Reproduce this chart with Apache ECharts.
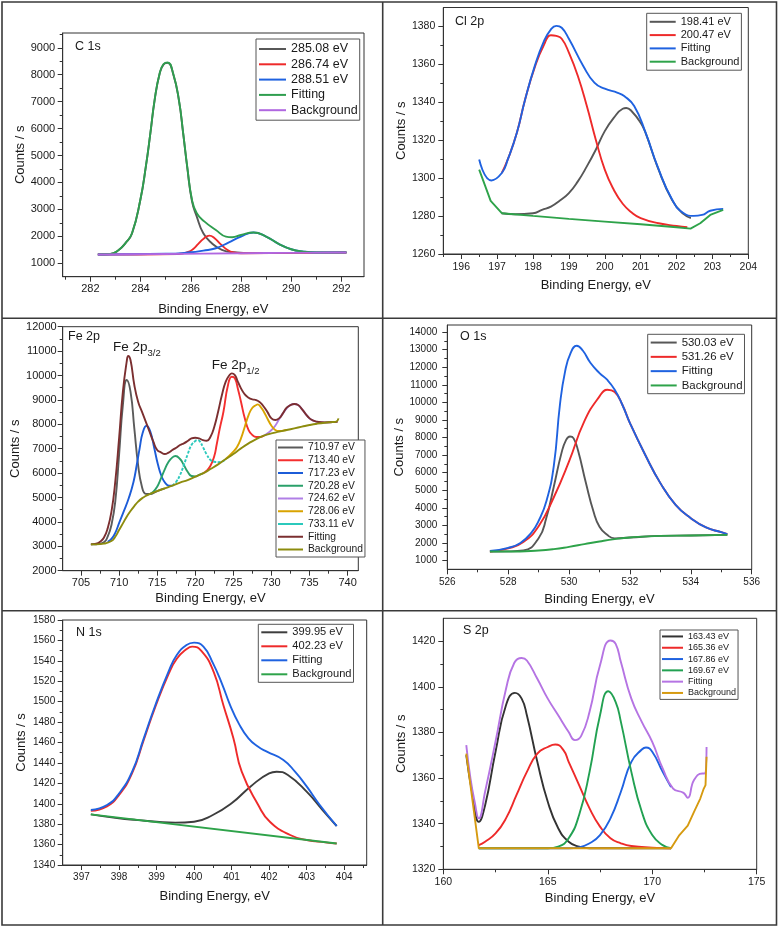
<!DOCTYPE html>
<html><head><meta charset="utf-8">
<script src="https://cdn.jsdelivr.net/npm/echarts@6/dist/echarts.min.js"></script>
<style>html,body{margin:0;padding:0;background:#fff}#c{width:780px;height:927px}</style>
</head><body><div id="c"></div>
<script>
// ---------------- C 1s ----------------
const C1S_XTICKS = [282, 284, 286, 288, 290, 292];
const C1S_XMINOR = [281, 283, 285, 287, 289, 291];
const C1S_YTICKS = [1000, 2000, 3000, 4000, 5000, 6000, 7000, 8000, 9000];
const C1S_YMINOR = [1500, 2500, 3500, 4500, 5500, 6500, 7500, 8500, 9500];
const C1S_P1 = [[282.3,1330],[282.8,1345],[283.13,1490],[283.4,1745],[283.66,2105],[283.99,3340],[284.21,4575],[284.39,5810],[284.56,7045],[284.76,8035],[284.92,8385],[285.08,8440],[285.3,8030],[285.53,7040],[285.7,5800],[285.86,4560],[286.05,3300],[286.24,2731],[286.5,2113],[286.84,1742],[287.24,1495],[287.7,1408],[288.5,1375],[290,1385],[292.2,1400]];
const C1S_P2 = [[282.3,1325],[285.5,1345],[285.9,1420],[286.1,1530],[286.3,1720],[286.5,1900],[286.74,2026],[286.95,1930],[287.2,1700],[287.45,1500],[287.7,1400],[288.0,1372],[290,1385],[292.2,1400]];
const C1S_P3 = [[282.3,1325],[285.0,1350],[286.0,1408],[286.5,1470],[287.0,1556],[287.5,1767],[288.0,1990],[288.5,2140],[289.0,1990],[289.5,1720],[290.0,1520],[290.5,1433],[291.0,1400],[292.2,1405]];
const C1S_FIT = [[282.3,1330],[282.8,1345],[283.13,1495],[283.4,1750],[283.66,2113],[283.99,3350],[284.21,4586],[284.39,5822],[284.56,7059],[284.76,8048],[284.92,8400],[285.08,8456],[285.3,8048],[285.53,7059],[285.7,5822],[285.86,4586],[286.05,3350],[286.24,2855],[286.55,2546],[287.0,2236],[287.4,1990],[287.65,1965],[288.0,2050],[288.5,2140],[289.0,1990],[289.5,1720],[290.0,1520],[290.5,1433],[291.0,1400],[291.5,1395],[292.2,1405]];
const C1S_BG = [[282.3,1325],[285,1345],[288,1370],[290,1385],[292.2,1400]];

// ---------------- Cl 2p ----------------
const CL_XTICKS = [196, 197, 198, 199, 200, 201, 202, 203, 204];
const CL_XMINOR = [195.5, 196.5, 197.5, 198.5, 199.5, 200.5, 201.5, 202.5, 203.5];
const CL_YTICKS = [1260, 1280, 1300, 1320, 1340, 1360, 1380];
const CL_YMINOR = [1270, 1290, 1310, 1330, 1350, 1370];
const CL_P1 = [[197.13,1281.5],[197.5,1281],[198.0,1281.5],[198.25,1283.3],[198.5,1285],[198.75,1288.2],[199.0,1292.1],[199.25,1298.3],[199.5,1306.2],[199.75,1315],[200.0,1324.8],[200.25,1331.8],[200.5,1336.6],[200.6,1337],[200.75,1335.3],[201.0,1329.2],[201.14,1323.7],[201.47,1306],[201.88,1288.3],[202.2,1281],[202.4,1279]];
const CL_P2 = [[197.13,1302.7],[197.3,1310],[197.55,1323.9],[197.78,1341.5],[198.05,1358.5],[198.3,1370],[198.5,1375.4],[198.65,1375],[198.8,1373.5],[199.0,1366.2],[199.25,1353.9],[199.5,1338],[199.75,1320.3],[200.0,1304.5],[200.25,1293.9],[200.5,1286.5],[200.75,1281.9],[201.0,1278.9],[201.5,1276.2],[202.0,1274.8],[202.3,1274.1]];
const CL_FIT = [[196.5,1309.8],[196.84,1298.8],[197.13,1302.7],[197.3,1310],[197.55,1323.9],[197.78,1341.5],[198.05,1359.2],[198.3,1372],[198.5,1378.5],[198.65,1380.3],[198.8,1379.3],[199.0,1373.5],[199.4,1359.2],[199.71,1350.4],[200.0,1347.2],[200.36,1345],[200.54,1343.3],[200.82,1338],[201.14,1323.9],[201.47,1306.2],[201.88,1288.6],[202.2,1281.5],[202.48,1280.1],[202.71,1280.6],[202.94,1282.8],[203.3,1283.8]];
const CL_BG = [[196.5,1304.5],[196.82,1288],[197.13,1281.5],[198,1280.1],[199,1278.5],[200,1277.1],[201,1275.7],[202,1274.1],[202.39,1273.4],[202.66,1276.2],[202.94,1280.6],[203.3,1283.3]];

// ---------------- Fe 2p ----------------
const FE_XTICKS = [705, 710, 715, 720, 725, 730, 735, 740];
const FE_XMINOR = [707.5, 712.5, 717.5, 722.5, 727.5, 732.5, 737.5];
const FE_YTICKS = [2000, 3000, 4000, 5000, 6000, 7000, 8000, 9000, 10000, 11000, 12000];
const FE_YMINOR = [2500, 3500, 4500, 5500, 6500, 7500, 8500, 9500, 10500, 11500];
const FE_P1 = [[706.3,3079],[707,3085],[708,3161],[708.5,3393],[709,3872],[709.5,4828],[710,6740],[710.5,8790],[711,9814],[711.5,9336],[712,7833],[712.5,6330],[713,5443],[713.5,5150],[714,5142],[715,5265],[716,5374]];
const FE_P2 = [[721,5989],[721.5,6100],[722,6300],[722.5,6700],[722.8,7150],[723.2,7800],[723.7,8516],[724.3,9610],[724.8,9951],[725.2,9880],[725.6,9450],[726,8927],[726.5,8243],[727,7765],[727.5,7560],[728,7480],[728.5,7480],[729,7533]];
const FE_P3 = [[708.5,3180],[709,3300],[709.5,3550],[710,3950],[710.6,4418],[711.3,5000],[711.9,5648],[712.3,6300],[712.7,7014],[713.1,7650],[713.6,7943],[714.1,7700],[714.6,7050],[715.1,6350],[715.6,5850],[716.1,5580],[716.6,5480],[717,5484]];
const FE_P4 = [[714,5142],[714.5,5238],[715,5443],[715.5,5784],[716,6153],[716.5,6467],[717,6645],[717.4,6699],[718,6577],[718.5,6331],[719,6057],[719.5,5880],[720,5860],[720.5,5925],[721,5989]];
const FE_P5 = [[729,7533],[729.5,7628],[730,7765],[730.5,7943],[731,8202],[731.5,8448],[732,8653],[732.5,8790],[733,8831],[733.5,8790],[734,8626],[734.5,8421],[735,8243],[735.5,8148],[736,8100],[737,8075],[738,8093]];
const FE_P6 = [[724,6577],[725,6877],[725.5,7082],[726,7423],[726.5,7902],[727,8380],[727.5,8680],[728,8790],[728.2,8817],[728.5,8749],[729,8516],[729.5,8216],[730,7943],[730.5,7765],[731,7724],[731.5,7740],[732,7765]];
const FE_P7 = [[717,5484],[717.5,5648],[718,5921],[718.5,6331],[719,6768],[719.5,7150],[720,7314],[720.3,7355],[720.6,7300],[721,7068],[721.5,6768],[722,6535],[722.5,6467],[723,6450],[723.5,6470],[724,6577]];
const FE_FIT = [[706.3,3079],[707,3107],[707.5,3189],[708,3352],[708.5,3735],[709,4418],[709.5,5648],[710,7423],[710.5,9336],[711,10566],[711.2,10798],[711.5,10634],[712,9610],[712.5,8926],[713,8516],[713.5,8107],[714,7697],[714.5,7287],[715,6945],[715.5,6850],[716,6781],[716.5,6840],[717,6945],[717.5,7041],[718,7150],[718.5,7220],[719,7314],[719.5,7423],[720,7451],[720.5,7420],[721,7355],[721.5,7328],[722,7492],[722.5,7902],[723,8516],[723.5,9199],[724,9746],[724.5,10019],[724.8,10087],[725.2,10019],[725.5,9814],[726,9473],[726.5,9227],[727,9090],[727.5,9022],[728,8995],[728.5,8899],[729,8721],[729.5,8489],[730,8243],[730.5,8175],[731,8243],[731.5,8448],[732,8680],[732.5,8790],[733,8831],[733.5,8790],[734,8626],[734.5,8421],[735,8243],[735.5,8148],[736,8107],[737,8079],[738,8090],[738.7,8100]];
const FE_BG = [[706.3,3079],[707,3079],[708,3107],[709,3216],[709.5,3393],[710,3667],[710.5,3940],[711,4213],[711.5,4445],[712,4650],[712.5,4828],[713,4964],[713.5,5060],[714,5142],[715,5265],[716,5374],[717,5484],[718,5607],[719,5716],[720,5852],[721,5989],[722,6167],[723,6358],[724,6577],[725,6781],[726,7014],[727,7219],[728,7396],[729,7533],[730,7628],[731,7697],[732,7765],[733,7833],[734,7902],[735,7970],[736,8025],[737,8066],[738,8093],[738.5,8107],[738.8,8243]];

// ---------------- O 1s ----------------
const O_XTICKS = [526, 528, 530, 532, 534, 536];
const O_XMINOR = [527, 529, 531, 533, 535];
const O_YTICKS = [1000, 2000, 3000, 4000, 5000, 6000, 7000, 8000, 9000, 10000, 11000, 12000, 13000, 14000];
const O_YMINOR = [1500, 2500, 3500, 4500, 5500, 6500, 7500, 8500, 9500, 10500, 11500, 12500, 13500];
const O_P1 = [[527.4,1512],[528,1520],[528.5,1570],[529,2270],[529.25,3400],[529.5,5215],[529.75,7110],[529.9,7850],[530.03,8060],[530.15,7950],[530.3,7225],[530.55,5435],[530.8,3800],[531,2920],[531.25,2460],[531.5,2260],[532,2310],[533,2404],[534,2423],[535.2,2461]];
const O_P2 = [[527.4,1512],[528,1690],[528.5,2050],[529,2950],[529.5,4600],[530,6637],[530.5,8914],[531,10338],[531.26,10717],[531.5,10584],[531.75,9863],[532,8819],[532.5,7016],[533,5403],[533.5,4169],[534,3410],[534.5,2879],[535,2613],[535.2,2499]];
const O_FIT = [[527.4,1550],[528,1720],[528.4,2000],[528.77,2600],[529.0,3250],[529.26,4400],[529.5,6400],[529.7,9863],[529.87,11761],[530.05,12800],[530.25,13222],[530.45,12950],[530.7,12250],[531,11666],[531.25,11286],[531.5,10717],[531.75,9863],[532,8819],[532.5,7016],[533,5403],[533.5,4169],[534,3410],[534.5,2879],[535,2613],[535.2,2499]];
const O_BG = [[527.4,1512],[528,1512],[529,1569],[529.5,1645],[530,1778],[530.5,1930],[531,2082],[531.5,2215],[532,2310],[533,2404],[534,2423],[535.2,2461]];

// ---------------- N 1s ----------------
const N_XTICKS = [397, 398, 399, 400, 401, 402, 403, 404];
const N_XMINOR = [397.5, 398.5, 399.5, 400.5, 401.5, 402.5, 403.5, 404.5];
const N_YTICKS = [1340, 1360, 1380, 1400, 1420, 1440, 1460, 1480, 1500, 1520, 1540, 1560, 1580];
const N_YMINOR = [1350, 1370, 1390, 1410, 1430, 1450, 1470, 1490, 1510, 1530, 1550, 1570];
const N_P1 = [[397.25,1389.6],[398,1385.7],[398.5,1384],[399,1382.4],[399.5,1381.5],[400,1382.4],[400.5,1389],[401,1400.4],[401.5,1416.7],[402,1429.8],[402.2,1431.4],[402.5,1428.2],[403,1411.8],[403.5,1390.6],[403.8,1378.2]];
const N_P2 = [[397.25,1393],[397.68,1397.5],[398.0,1408.5],[398.35,1430],[398.66,1462.5],[398.97,1495],[399.32,1527],[399.54,1542],[399.8,1551.5],[399.95,1553.9],[400.2,1549.5],[400.52,1529.4],[400.78,1496.7],[401.05,1464],[401.27,1431.4],[401.71,1398.8],[402.02,1382.4],[402.56,1369.4],[403,1364.5],[403.5,1362.2],[403.8,1361]];
const N_FIT = [[397.25,1393.9],[397.68,1398.8],[398.0,1410],[398.35,1431.4],[398.66,1464],[398.97,1496.7],[399.32,1529.4],[399.54,1545.7],[399.8,1555.5],[400,1557.8],[400.25,1554],[400.5,1538],[400.75,1517],[400.96,1496.7],[401.2,1478],[401.45,1464],[401.7,1456],[401.94,1451],[402.38,1442.9],[402.69,1431.4],[403.0,1417],[403.35,1398.8],[403.8,1378.2]];
const N_BG = [[397.25,1389.6],[403.8,1361]];

// ---------------- S 2p ----------------
const S_XTICKS = [160, 165, 170, 175];
const S_XMINOR = [162.5, 167.5, 172.5];
const S_YTICKS = [1320, 1340, 1360, 1380, 1400, 1420];
const S_YMINOR = [1330, 1350, 1370, 1390, 1410];
const S_P1 = [[161.1,1370],[161.4,1352.5],[161.7,1340.8],[162,1348],[162.5,1371.5],[163,1391.9],[163.43,1397.3],[163.75,1394.8],[164,1387.5],[164.5,1367.1],[165,1349.6],[165.5,1338],[166,1332.1],[166.5,1329.9],[167,1329.2],[170.9,1329.2]];
const S_P2 = [[161.7,1330.6],[162,1332.1],[162.5,1335.7],[163,1342.3],[163.5,1352.5],[164,1362.7],[164.5,1370.7],[165,1373.6],[165.36,1374.7],[165.75,1372.2],[166,1367.1],[166.5,1356.9],[167,1346.7],[167.5,1338.7],[168,1333.6],[168.5,1331.4],[169,1330.2],[170,1329.5],[170.9,1329.2]];
const S_P3 = [[161.7,1329.2],[166,1329.2],[166.5,1329.6],[167,1331.4],[167.5,1335],[168,1342.3],[168.5,1354],[169,1367.1],[169.5,1372.5],[169.7,1373.4],[170,1371.5],[170.5,1362.7],[170.9,1356]];
const S_P4 = [[161.7,1329.2],[165,1329.2],[165.5,1329.9],[166,1333.6],[166.5,1343.8],[167,1362.7],[167.5,1387.5],[167.9,1398],[168.25,1393.3],[168.5,1384.6],[169,1362.7],[169.5,1345.2],[170,1335],[170.5,1330.6],[170.9,1329.2]];
const S_FIT = [[161.1,1374.4],[161.3,1359.8],[161.5,1349.6],[161.7,1342.3],[162,1354],[162.5,1376],[163,1399],[163.4,1410.5],[163.75,1412.6],[164,1411.5],[164.5,1403.5],[165,1394.8],[165.5,1387.5],[166,1380.2],[166.3,1376.6],[166.6,1378.5],[167,1389],[167.5,1409.4],[168,1420.3],[168.25,1418.8],[168.5,1410.8],[169,1394.8],[169.5,1384.6],[170,1375.8],[170.5,1364.2],[171,1355.4],[171.5,1353.5],[171.7,1351.3],[172,1359.1],[172.4,1362],[172.5,1362],[172.6,1373.6]];
const S_BG = [[161.1,1370.7],[161.7,1329.2],[170.9,1329.2],[171.3,1335],[171.7,1339.1],[172,1345.2],[172.3,1351],[172.45,1355],[172.55,1356.9],[172.6,1369.3]];

// ---------------- build ----------------
const FONT = '"Liberation Sans", Arial, Helvetica, sans-serif';
const INK = '#1a1a1a';

const panels = [
  { key:'c1', grid:{left:62.7, top:33, width:301.3, height:243.7}, x:[280.9,292.9], y:[500,9550],
    xt:C1S_XTICKS, xm:C1S_XMINOR, yt:C1S_YTICKS, ym:C1S_YMINOR, fs:11, xMargin:7, yMargin:7.5, xGap:26, yGap:33,
    series:[['285.08 eV',C1S_P1,'#575757'],['286.74 eV',C1S_P2,'#ee2a2a'],['288.51 eV',C1S_P3,'#1f62e0'],['Fitting',C1S_FIT,'#2f9e4f'],['Background',C1S_BG,'#b067e0']],
    legend:{left:256, top:39, fs:12.5, lh:14, gap:1.3, iw:27, pad:[3,2,3,3]},
    label:{text:'C 1s', x:75, y:48, fs:12.5} },
  { key:'cl', grid:{left:443.3, top:7.5, width:305, height:246.5}, x:[195.5,204], y:[1260,1390],
    xt:CL_XTICKS, xm:CL_XMINOR, yt:CL_YTICKS, ym:CL_YMINOR, fs:10.5, xMargin:7.5, yMargin:8, xGap:24.5, yGap:35,
    series:[['198.41 eV',CL_P1,'#575757'],['200.47 eV',CL_P2,'#ee2a2a'],['Fitting',CL_FIT,'#1f62e0'],['Background',CL_BG,'#2ea34a',false]],
    legend:{left:646.7, top:13.3, fs:11, lh:13, gap:0.3, iw:26, pad:[2,2,2,3]},
    label:{text:'Cl 2p', x:455, y:22.7, fs:12.5} },
  { key:'fe', grid:{left:62.7, top:326.7, width:295.6, height:244}, x:[702.6,741.4], y:[2000,12000],
    xt:FE_XTICKS, xm:FE_XMINOR, yt:FE_YTICKS, ym:FE_YMINOR, fs:11, xMargin:6.5, yMargin:6, xGap:21, yGap:34.5,
    series:[['710.97 eV',FE_P1,'#5b5b5b'],['713.40 eV',FE_P2,'#f42f2f'],['717.23 eV',FE_P3,'#1c5cd8'],['720.28 eV',FE_P4,'#2aa06a'],['724.62 eV',FE_P5,'#b07fe6'],['728.06 eV',FE_P6,'#d9a300'],['733.11 eV',FE_P7,'#2bc9bc',true,[3,1.5]],['Fitting',FE_FIT,'#7b2f30'],['Background',FE_BG,'#8d8c0e']],
    legend:{left:276, top:440, fs:10.3, lh:12, gap:0.75, iw:25, pad:[1.5,2,1.5,2]},
    label:{text:'Fe 2p', x:68, y:338, fs:12.5} },
  { key:'o', grid:{left:447.3, top:325, width:304.4, height:244.3}, x:[526,536], y:[500,14400],
    xt:O_XTICKS, xm:O_XMINOR, yt:O_YTICKS, ym:O_YMINOR, fs:10, xMargin:8, yMargin:10, xGap:24, yGap:40.8,
    series:[['530.03 eV',O_P1,'#575757'],['531.26 eV',O_P2,'#ee2a2a'],['Fitting',O_FIT,'#1f62e0'],['Background',O_BG,'#2ea34a']],
    legend:{left:647.7, top:334.3, fs:11.4, lh:13.5, gap:0.8, iw:26, pad:[1.5,2,1.5,3]},
    label:{text:'O 1s', x:460, y:338, fs:12.5} },
  { key:'n', grid:{left:62.7, top:620, width:304, height:245}, x:[396.5,404.6], y:[1340,1580],
    xt:N_XTICKS, xm:N_XMINOR, yt:N_YTICKS, ym:N_YMINOR, fs:10, xMargin:7.5, yMargin:7.5, xGap:24.5, yGap:35.2,
    series:[['399.95 eV',N_P1,'#3d3d3d'],['402.23 eV',N_P2,'#ee2a2a'],['Fitting',N_FIT,'#1f62e0'],['Background',N_BG,'#2ea34a',false]],
    legend:{left:258.3, top:624.3, fs:11.1, lh:13, gap:1, iw:26, pad:[1.5,2,1.5,3]},
    label:{text:'N 1s', x:76, y:634, fs:12.5} },
  { key:'s', grid:{left:443.3, top:618.3, width:313.4, height:251}, x:[160,175], y:[1320,1430],
    xt:S_XTICKS, xm:S_XMINOR, yt:S_YTICKS, ym:S_YMINOR, fs:10.5, xMargin:7.5, yMargin:8, xGap:22.5, yGap:35,
    series:[['163.43 eV',S_P1,'#333333'],['165.36 eV',S_P2,'#ee2a2a'],['167.86 eV',S_P3,'#1f62e0'],['169.67 eV',S_P4,'#22a152'],['Fitting',S_FIT,'#b574e3'],['Background',S_BG,'#d69a10',false]],
    legend:{left:660, top:630, fs:9, lh:10.5, gap:0.8, iw:21, pad:[1.2,2,1.2,2]},
    label:{text:'S 2p', x:463, y:632, fs:12.5} }
];

const grids = [], xAxes = [], yAxes = [], series = [], legends = [], graphics = [];
const fmt = v => String(v);

panels.forEach((p, i) => {
  grids.push(Object.assign({show:true, borderColor:'#333', borderWidth:1, backgroundColor:'transparent',
    containLabel:false, outerBoundsMode:'none'}, p.grid));
  const axisLine = {show:true, onZero:false, lineStyle:{color:'#333', width:1}};
  xAxes.push({type:'value', gridIndex:i, min:p.x[0], max:p.x[1], position:'bottom',
    axisLine, axisTick:{show:true, inside:false, length:5, lineStyle:{color:'#333'}, customValues:p.xt},
    axisLabel:{customValues:p.xt, formatter:fmt, fontSize:p.fs, color:INK, margin:p.xMargin, fontFamily:FONT},
    splitLine:{show:false}, name:'Binding Energy, eV', nameLocation:'middle', nameGap:p.xGap,
    nameTextStyle:{fontSize:13, color:INK, fontFamily:FONT}});
  xAxes.push({type:'value', gridIndex:i, min:p.x[0], max:p.x[1], position:'bottom',
    axisLine:{show:false}, axisTick:{show:true, inside:false, length:3, lineStyle:{color:'#333'}, customValues:p.xm},
    axisLabel:{show:false}, splitLine:{show:false}});
  yAxes.push({type:'value', gridIndex:i, min:p.y[0], max:p.y[1], position:'left',
    axisLine, axisTick:{show:true, inside:false, length:5, lineStyle:{color:'#333'}, customValues:p.yt},
    axisLabel:{customValues:p.yt, formatter:fmt, fontSize:p.fs, color:INK, margin:p.yMargin, fontFamily:FONT},
    splitLine:{show:false}, name:'Counts / s', nameLocation:'middle', nameGap:p.yGap,
    nameTextStyle:{fontSize:13, color:INK, fontFamily:FONT}});
  yAxes.push({type:'value', gridIndex:i, min:p.y[0], max:p.y[1], position:'left',
    axisLine:{show:false}, axisTick:{show:true, inside:false, length:3, lineStyle:{color:'#333'}, customValues:p.ym},
    axisLabel:{show:false}, splitLine:{show:false}});

  const legendData = [];
  p.series.forEach(s => {
    const [label, data, color, smooth, dash] = s;
    const name = p.key + '|' + label;
    legendData.push({name, icon:'rect'});
    series.push({type:'line', name, xAxisIndex:2*i, yAxisIndex:2*i, data,
      symbol:'none', showSymbol:false, smooth: smooth === false ? false : 0.5,
      color, itemStyle:{color}, lineStyle:{color, width:1.9, type: dash || 'solid'}, animation:false, silent:true});
  });
  const L = p.legend;
  legends.push({data:legendData, orient:'vertical', left:L.left, top:L.top, itemWidth:L.iw, itemHeight:2,
    itemGap:L.gap, padding:L.pad, borderColor:'#555', borderWidth:1, backgroundColor:'#fff',
    selectedMode:false, align:'left', itemStyle:{borderWidth:0},
    textStyle:{fontSize:L.fs, lineHeight:L.lh, color:INK, fontFamily:FONT},
    formatter: n => n.split('|')[1]});

  graphics.push({type:'text', left:p.label.x, top:p.label.y - p.label.fs*0.6, z:50,
    style:{text:p.label.text, fill:INK, font:p.label.fs + 'px ' + FONT}});
});

// Fe peak annotations (Fe 2p3/2, Fe 2p1/2)
const FE_NOTES = [['Fe 2p', '3/2', 113, 340], ['Fe 2p', '1/2', 211.7, 358]];
FE_NOTES.forEach(([main, sub, x, y]) => {
  graphics.push({type:'text', left:x, top:y, z:50,
    style:{text:'{m|' + main + '}{s|' + sub + '}', fill:INK,
      rich:{m:{fontSize:13.5, fontFamily:FONT, fill:INK, verticalAlign:'bottom', padding:[0,0,4,0]},
            s:{fontSize:9.5, fontFamily:FONT, fill:INK, verticalAlign:'bottom'}}}});
});

// panel frames
const FR = {stroke:'#3a3a3a', lineWidth:1.6};
graphics.push({type:'rect', z:60, shape:{x:2, y:2, width:774.5, height:923}, style:Object.assign({fill:'none'}, FR), silent:true});
graphics.push({type:'line', z:60, shape:{x1:382.7, y1:2, x2:382.7, y2:925}, style:FR, silent:true});
graphics.push({type:'line', z:60, shape:{x1:2, y1:318.3, x2:776.5, y2:318.3}, style:FR, silent:true});
graphics.push({type:'line', z:60, shape:{x1:2, y1:610.7, x2:776.5, y2:610.7}, style:FR, silent:true});

const chart = echarts.init(document.getElementById('c'), null, {renderer:'canvas'});
chart.setOption({
  animation:false, backgroundColor:'#fff',
  grid:grids, xAxis:xAxes, yAxis:yAxes, series, legend:legends, graphic:graphics
});
</script>
</body></html>
